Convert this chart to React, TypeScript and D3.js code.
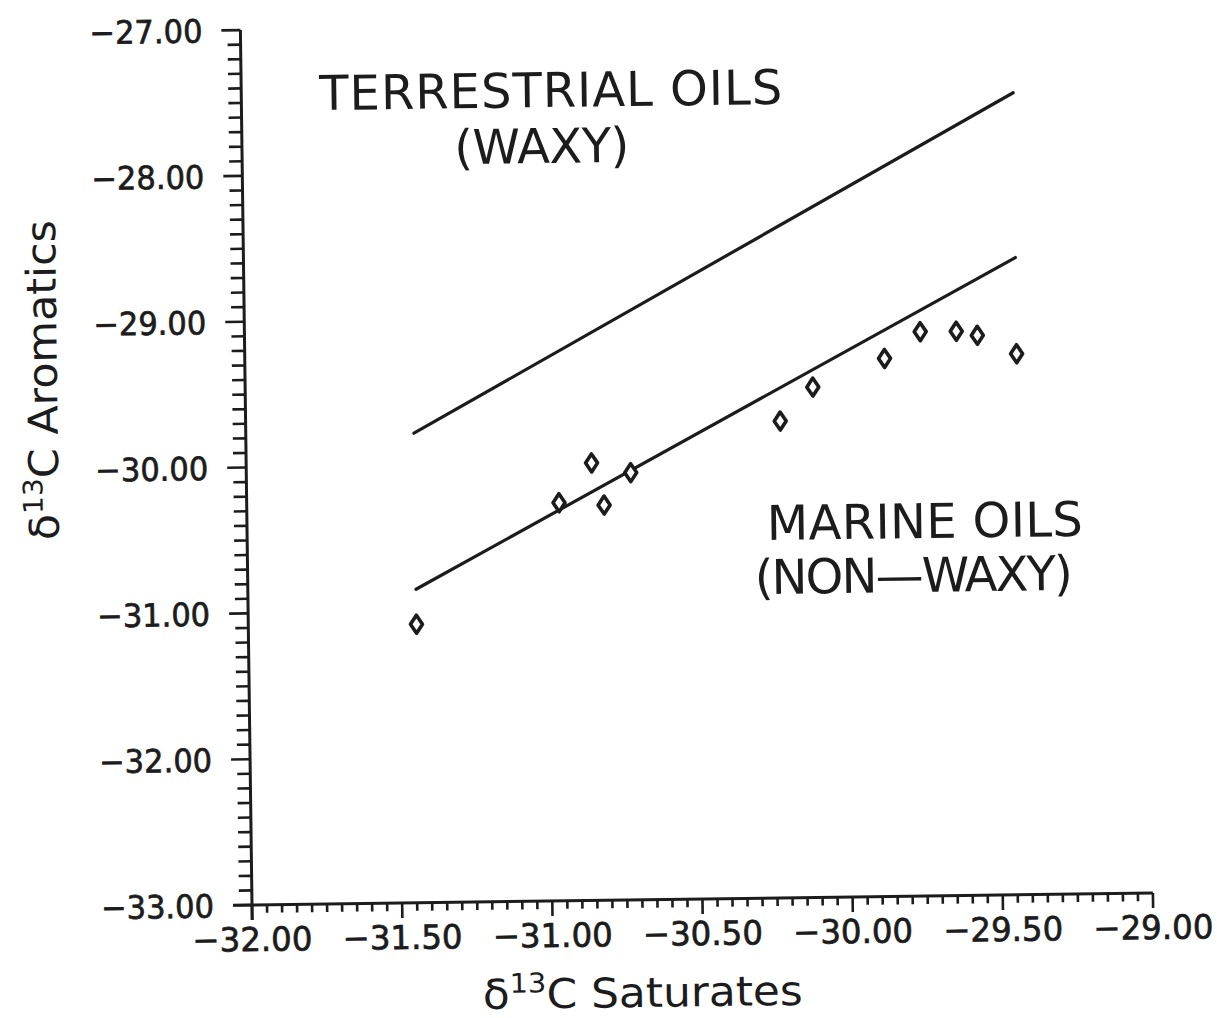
import React from "react";
import * as d3 from "d3";

const saturates = [-31.44, -30.96, -30.85, -30.81, -30.72, -30.22, -30.11, -29.87, -29.75, -29.63, -29.56, -29.43];
const aromatics = [-31.09, -30.27, -30.0, -30.29, -30.07, -29.73, -29.5, -29.31, -29.13, -29.13, -29.16, -29.29];

const terrestrialLineX = [-31.44, -29.43];
const terrestrialLineY = [-29.78, -27.5];
const marineLineX = [-31.44, -29.43];
const marineLineY = [-30.85, -28.63];

const xTickValues = [-32, -31.5, -31, -30.5, -30, -29.5, -29];
const xTickLabels = ["−32.00", "−31.50", "−31.00", "−30.50", "−30.00", "−29.50", "−29.00"];
const yTickValues = [-27, -28, -29, -30, -31, -32, -33];
const yTickLabels = ["−27.00", "−28.00", "−29.00", "−30.00", "−31.00", "−32.00", "−33.00"];

const W = 1217;
const H = 1018;
const FONT = "'DejaVu Sans', sans-serif";
const INK = "#1c1c1c";
const TILT = -0.76;

export default function App() {
  const ox = 252;
  const oy = 905;
  const x = d3.scaleLinear().domain([-32, -29]).range([ox, ox + 901]);
  const y = d3.scaleLinear().domain([-33, -27]).range([oy, 30]);

  const xMinor = d3.range(0, 61).map((i) => ({ v: -32 + i * 0.05, major: i % 10 === 0 }));
  const yMinor = d3.range(0, 61).map((i) => ({ v: -33 + i * 0.1, major: i % 10 === 0 }));

  const line = d3
    .line<[number, number]>()
    .x((d) => x(d[0]))
    .y((d) => y(d[1]));

  const terr = line(terrestrialLineX.map((v, i) => [v, terrestrialLineY[i]] as [number, number]));
  const mar = line(marineLineX.map((v, i) => [v, marineLineY[i]] as [number, number]));

  const diamond = "M0,-9L6,0L0,9L-6,0Z";

  const textStroke = { stroke: INK, strokeWidth: 0.7 };

  return (
    <svg
      width={W}
      height={H}
      viewBox={`0 0 ${W} ${H}`}
      style={{ position: "absolute", left: 0, top: 0, background: "#fff" }}
    >
      <rect x={0} y={0} width={W} height={H} fill="#fff" />
      <g transform={`rotate(${TILT}, ${ox}, ${oy})`}>
        {/* axes */}
        <line x1={ox} x2={ox} y1={y(-27)} y2={oy + 15} stroke={INK} strokeWidth={3} />
        <line x1={ox - 19} x2={x(-29)} y1={oy} y2={oy} stroke={INK} strokeWidth={3} />
        {/* y ticks */}
        {yMinor.map((t, i) => (
          <line
            key={"yt" + i}
            x1={ox - (t.major ? 19 : 13)}
            x2={ox}
            y1={y(t.v)}
            y2={y(t.v)}
            stroke={INK}
            strokeWidth={2.6}
          />
        ))}
        {/* x ticks */}
        {xMinor.map((t, i) => (
          <line
            key={"xt" + i}
            x1={x(t.v)}
            x2={x(t.v)}
            y1={oy}
            y2={oy + (t.major ? 15 : 8)}
            stroke={INK}
            strokeWidth={2.6}
          />
        ))}
        {/* y tick labels */}
        {yTickValues.map((v, i) => (
          <text
            key={"yl" + i}
            x={ox - 38}
            y={y(v) + 12}
            textAnchor="end"
            fontFamily={FONT}
            fontSize={32}
            fill={INK}
            {...textStroke}
            textLength={113}
            lengthAdjust="spacingAndGlyphs"
          >
            {yTickLabels[i]}
          </text>
        ))}
        {/* x tick labels */}
        {xTickValues.map((v, i) => (
          <text
            key={"xl" + i}
            x={x(v)}
            y={oy + 46}
            textAnchor="middle"
            fontFamily={FONT}
            fontSize={33}
            fill={INK}
            {...textStroke}
            textLength={120}
            lengthAdjust="spacingAndGlyphs"
          >
            {xTickLabels[i]}
          </text>
        ))}
        {/* boundary lines */}
        <path d={terr ?? ""} fill="none" stroke={INK} strokeWidth={3.2} strokeLinecap="round" />
        <path d={mar ?? ""} fill="none" stroke={INK} strokeWidth={3.2} strokeLinecap="round" />
        {/* points */}
        {saturates.map((s, i) => (
          <path
            key={"p" + i}
            d={diamond}
            transform={`translate(${x(s)},${y(aromatics[i])})`}
            fill="#fff"
            stroke={INK}
            strokeWidth={3.6}
            strokeLinejoin="round"
          />
        ))}
      </g>

      {/* axis titles */}
      <text
        transform={`rotate(${TILT}, 643, 1007)`}
        x={643}
        y={1007}
        textAnchor="middle"
        fontFamily={FONT}
        fontSize={41}
        fill={INK}
        textLength={320}
        lengthAdjust="spacingAndGlyphs"
      >
        δ<tspan dy={-16} fontSize={27}>13</tspan>
        <tspan dy={16}>C Saturates</tspan>
      </text>
      <text
        transform={`translate(57, 380) rotate(${-90 + TILT})`}
        x={0}
        y={0}
        textAnchor="middle"
        fontFamily={FONT}
        fontSize={41}
        fill={INK}
        textLength={320}
        lengthAdjust="spacingAndGlyphs"
      >
        δ<tspan dy={-16} fontSize={27}>13</tspan>
        <tspan dy={16}>C Aromatics</tspan>
      </text>

      {/* annotations */}
      <text
        transform={`rotate(${TILT}, 551, 107)`}
        x={551}
        y={107}
        textAnchor="middle"
        fontFamily={FONT}
        fontSize={48}
        fill={INK}
        textLength={463}
        lengthAdjust="spacing"
      >
        TERRESTRIAL  OILS
      </text>
      <text
        transform={`rotate(${TILT}, 542, 163)`}
        x={542}
        y={163}
        textAnchor="middle"
        fontFamily={FONT}
        fontSize={48}
        fill={INK}
        textLength={175}
        lengthAdjust="spacing"
      >
        (WAXY)
      </text>
      <text
        transform={`rotate(${TILT}, 925, 538)`}
        x={925}
        y={538}
        textAnchor="middle"
        fontFamily={FONT}
        fontSize={48}
        fill={INK}
        textLength={316}
        lengthAdjust="spacing"
      >
        MARINE  OILS
      </text>
      <text
        transform={`rotate(${TILT}, 914, 592)`}
        x={914}
        y={592}
        textAnchor="middle"
        fontFamily={FONT}
        fontSize={48}
        fill={INK}
        textLength={318}
        lengthAdjust="spacing"
      >
        (NON—WAXY)
      </text>
    </svg>
  );
}
